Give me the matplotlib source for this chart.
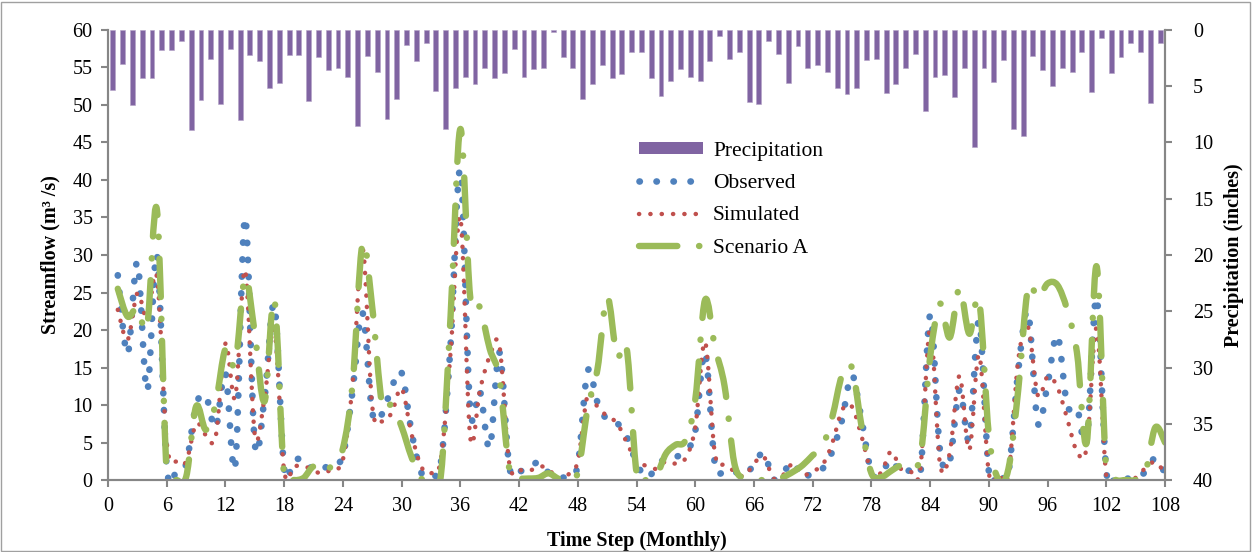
import numpy as np
import matplotlib
matplotlib.use('Agg')
import matplotlib.pyplot as plt
from matplotlib.path import Path
from matplotlib.patches import PathPatch, Patch, Rectangle
from matplotlib.lines import Line2D

plt.rcParams['font.family'] = ['Liberation Serif', 'DejaVu Serif']

months = np.arange(1, 109)

# monthly precipitation (inches), secondary axis
precip = [5.3, 3.0, 6.7, 4.3, 4.3, 1.8, 1.8, 1.0, 8.9, 6.2, 2.6, 6.6, 1.7, 8.0, 2.2, 2.8,
          5.2, 4.7, 2.2, 2.2, 6.3, 2.4, 3.6, 3.4, 4.2, 8.5, 2.3, 3.7, 7.9, 6.1, 1.3, 2.8,
          1.2, 5.4, 8.8, 5.2, 4.2, 4.8, 3.4, 4.3, 3.8, 1.7, 4.2, 3.5, 3.4, 0.2, 2.4, 3.4,
          6.1, 4.8, 3.1, 4.3, 3.9, 2.0, 2.0, 4.3, 5.9, 4.5, 3.5, 4.2, 4.5, 2.8, 0.5, 2.6,
          2.0, 6.4, 6.6, 1.0, 2.1, 4.7, 1.4, 3.4, 3.1, 3.7, 5.2, 5.7, 5.2, 2.7, 2.6, 5.6,
          4.8, 3.4, 2.1, 7.2, 4.2, 4.0, 6.0, 3.4, 10.4, 3.4, 4.6, 2.7, 8.8, 9.4, 2.3, 3.6,
          5.0, 3.4, 3.7, 2.0, 5.5, 0.7, 3.8, 2.4, 1.2, 2.0, 6.5, 1.2]

# streamflow (m3/s)
observed = [27.3, 16.8, 29.0, 11.9, 30.0, 1.8, 1.1, 2.2, 10.0, 11.2, 7.0, 14.2, 1.9, 35.0,
            4.8, 11.0, 23.3, 1.5, 2.6, 2.8, 1.3, 1.5, 2.5, 3.2, 12.0, 22.3, 9.0, 8.8, 12.4,
            14.3, 6.5, 1.0, 0.8, 2.2, 18.0, 41.3, 9.5, 11.8, 4.3, 17.0, 1.8, 1.2, 1.5, 2.4,
            1.0, 0.4, 0.5, 2.0, 14.5, 10.4, 8.0, 7.6, 5.8, 2.3, 0.3, 1.6, 3.0, 3.1, 3.8, 6.5,
            17.0, 2.2, 1.2, 1.1, 0.7, 2.0, 3.6, 0.1, 1.1, 2.3, 0.3, 1.1, 1.5, 3.8, 8.0, 14.0,
            8.0, 1.0, 0.9, 2.7, 0.9, 1.3, 0.8, 22.0, 4.0, 2.5, 12.0, 5.5, 21.2, 1.1, 1.0, 1.0,
            14.5, 22.4, 7.6, 12.8, 19.3, 10.0, 9.6, 5.3, 24.3, 1.2, 0.4, 0.2, 0.3, 1.1, 2.9, 0.9]

simulated = [22.7, 18.7, 24.9, 21.5, 27.0, 5.0, 2.4, 2.5, 7.5, 6.0, 5.8, 18.2, 11.0, 28.0,
             6.0, 11.0, 20.0, 1.2, 1.8, 1.9, 1.2, 0.9, 1.6, 2.7, 13.0, 31.0, 9.8, 7.8, 9.0,
             12.2, 6.2, 1.8, 0.9, 2.7, 17.0, 35.0, 5.8, 12.0, 16.5, 17.8, 2.2, 1.4, 1.2, 1.8,
             1.5, 0.0, 0.7, 2.5, 11.3, 9.8, 8.5, 7.6, 5.0, 2.5, 1.9, 1.5, 2.5, 2.2, 2.9, 7.0,
             18.4, 3.6, 2.0, 1.2, 0.5, 2.2, 3.1, 0.2, 0.7, 2.2, 0.7, 1.2, 2.0, 4.9, 9.3, 9.8,
             5.8, 1.1, 1.0, 3.8, 1.5, 1.1, 1.5, 20.2, 2.2, 3.6, 13.9, 4.0, 16.7, 0.9, 0.7, 0.7,
             16.0, 20.4, 11.3, 13.8, 12.4, 8.2, 3.8, 4.4, 20.2, 0.5, 0.2, 0.1, 0.3, 1.6, 2.4, 0.9]

scenario_a = [25.5, 21.8, 23.0, 20.5, 36.0, 1.0, 0.0, 0.5, 9.8, 6.7, 10.2, 17.5, 15.5, 27.0,
              19.5, 10.5, 24.0, 0.5, 0.0, 0.3, 1.8, 0.9, 2.2, 4.2, 13.0, 31.5, 23.0, 10.2, 10.0,
              7.1, 3.1, 0.2, 0.0, 0.5, 21.8, 46.8, 24.5, 23.0, 17.5, 13.5, 1.5, 0.3, 0.2, 0.3,
              0.9, 0.2, 0.1, 1.0, 9.5, 14.7, 24.4, 16.5, 17.5, 1.0, 0.0, 0.5, 3.5, 4.7, 5.3, 10.7,
              24.0, 17.8, 12.5, 2.2, 0.2, 0.0, 0.0, 0.0, 0.4, 1.1, 2.0, 3.3, 4.5, 8.4, 14.0, 15.0,
              7.1, 0.9, 0.4, 1.2, 2.0, 2.4, 3.0, 16.4, 23.5, 19.0, 25.6, 19.5, 24.0, 6.0, 0.0, 1.5,
              12.0, 25.6, 24.2, 26.2, 26.0, 22.7, 17.0, 5.0, 28.5, 1.3, 0.0, 0.0, 0.0, 1.0, 7.0, 5.0]


def smooth_path(x, y):
    # bezier path through the points, same tension as a spreadsheet "smoothed line"
    pts = np.column_stack([x, y]).astype(float)
    n = len(pts)
    verts = [pts[0]]
    codes = [Path.MOVETO]
    for i in range(n - 1):
        p0 = pts[i - 1] if i > 0 else pts[i]
        p1, p2 = pts[i], pts[i + 1]
        p3 = pts[i + 2] if i + 2 < n else pts[i + 1]
        verts += [p1 + (p2 - p0) / 6, p2 - (p3 - p1) / 6, p2]
        codes += [Path.CURVE4] * 3
    return Path(verts, codes)


fig = plt.figure(figsize=(12.53, 5.52), dpi=100)
ax = fig.add_axes([0.0862, 0.1304, 0.8436, 0.8153])
ax2 = ax.twinx()

# precipitation hangs from the top on the inverted axis
ax2.bar(months - 0.5, precip, width=0.5, color='#8064A2', edgecolor='#B3A2C7', linewidth=0.4)
ax2.set_ylim(40, 0)
ax2.set_yticks(np.arange(0, 41, 5))

ax.set_zorder(ax2.get_zorder() + 1)
ax.patch.set_visible(False)

dot = (0, (0.05, 2.5))
dashdot = (0, (6.0, 3.4, 0.05, 3.4))
styles = [
    (observed, '#4F81BD', 4.8, dot),
    (simulated, '#C0504D', 3.2, dot),
    (scenario_a, '#9BBB59', 4.6, dashdot),
]
for vals, col, lw, ls in styles:
    pp = PathPatch(smooth_path(months, vals), facecolor='none', edgecolor=col,
                   linewidth=lw, linestyle=ls, capstyle='round', joinstyle='round')
    ax.add_patch(pp)

ax.set_xlim(0, 108)
ax.set_ylim(0, 60)
ax.set_xticks(np.arange(0, 109, 6))
ax.set_yticks(np.arange(0, 61, 5))

for a in (ax, ax2):
    for s in a.spines.values():
        s.set_color('#868686')
        s.set_linewidth(1.5)
    a.spines['top'].set_visible(False)
    a.tick_params(colors='#868686', labelcolor='black', labelsize=14.5, length=5, width=1.5)
ax.tick_params(axis='x', pad=7)
ax.tick_params(axis='y', pad=6)
ax2.tick_params(axis='y', pad=15)

ax.set_xlabel('Time Step (Monthly)', fontsize=14.5, fontweight='bold', labelpad=11)
ax.set_ylabel('Streamflow (m³ /s)', fontsize=14.5, fontweight='bold', labelpad=9)
ax2.set_ylabel('Precipitation (inches)', fontsize=14.5, fontweight='bold', labelpad=8)

handles = [
    Patch(facecolor='#8064A2', edgecolor='none'),
    Line2D([], [], color='#4F81BD', lw=4.8, ls=dot, dash_capstyle='round'),
    Line2D([], [], color='#C0504D', lw=3.2, ls=dot, dash_capstyle='round'),
    Line2D([], [], color='#9BBB59', lw=4.6, ls=dashdot, dash_capstyle='round'),
]
labels = ['Precipitation', 'Observed', 'Simulated', 'Scenario A']
ax.legend(handles, labels, loc='upper left', bbox_to_anchor=(0.492, 0.776), frameon=False,
          fontsize=15.5, handlelength=3.0, handleheight=0.45, handletextpad=0.45,
          labelspacing=0.62, borderpad=0)

fig.patches.append(Rectangle((0.001, 0.002), 0.997, 0.995, transform=fig.transFigure,
                             fill=False, edgecolor='#A0A0A0', linewidth=1))

fig.savefig('out.png', dpi=100)
